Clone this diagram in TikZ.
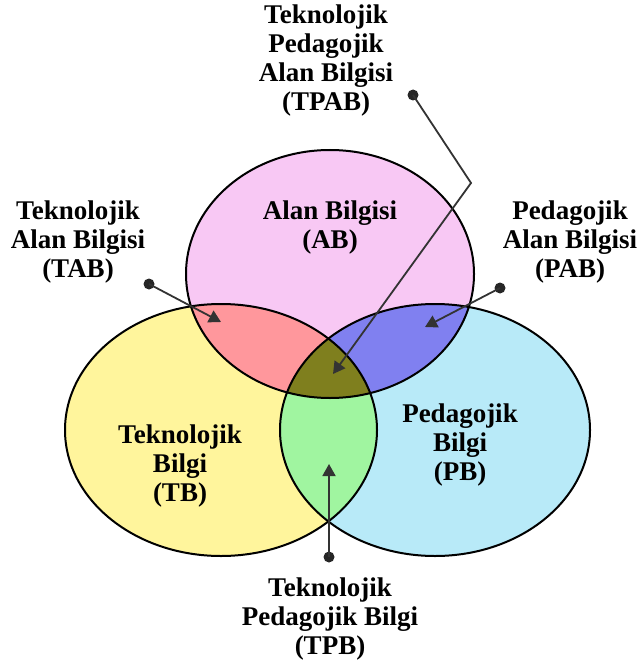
\documentclass[tikz,border=0pt]{standalone}
\usepackage{fontspec}
\setmainfont{Liberation Serif}
\usetikzlibrary{arrows.meta}
\definecolor{abpink}{HTML}{F8C8F4}
\definecolor{tbyellow}{HTML}{FFF59C}
\definecolor{pbcyan}{HTML}{B8EAF8}
\definecolor{tabred}{HTML}{FF979C}
\definecolor{pabblue}{HTML}{8080F0}
\definecolor{tpbgreen}{HTML}{A0F5A0}
\definecolor{tpabolive}{HTML}{7F7F1E}
\tikzset{
  lbl/.style={font=\bfseries\fontsize{27}{29}\selectfont, align=center, inner sep=0pt},
  dotend/.style={circle, fill=black!85, inner sep=0pt, minimum size=11pt},
  pointer/.style={draw=black!80, line width=1.8pt, -{Triangle[length=12pt,width=13pt]}},
  ring/.style={draw=black, line width=2pt},
}
\begin{document}
\begin{tikzpicture}[x=1pt,y=-1pt]
\useasboundingbox (0,0) rectangle (637,668);
\def\abring{(330,274) ellipse [x radius=144pt, y radius=124pt]}
\def\tbring{(221,430) ellipse [x radius=156pt, y radius=126pt]}
\def\pbring{(435,430) ellipse [x radius=155pt, y radius=126pt]}
% base fills
\fill[abpink] \abring;
\fill[tbyellow] \tbring;
\fill[pbcyan] \pbring;
% overlaps
\begin{scope}
\clip \abring;
\fill[tabred] \tbring;
\fill[pabblue] \pbring;
\end{scope}
\begin{scope}
\clip \tbring;
\fill[tpbgreen] \pbring;
\end{scope}
\begin{scope}
\clip \abring;
\clip \tbring;
\fill[tpabolive] \pbring;
\end{scope}
% outlines
\draw[ring] \abring;
\draw[ring] \tbring;
\draw[ring] \pbring;
% labels
\node[lbl] (tpab) at (326,61) {Teknolojik\\Pedagojik\\Alan Bilgisi\\(TPAB)};
\node[lbl] (tab) at (78,242) {Teknolojik\\Alan Bilgisi\\(TAB)};
\node[lbl] (pab) at (570,242) {Pedagojik\\Alan Bilgisi\\(PAB)};
\node[lbl] (ab) at (330,228) {Alan Bilgisi\\(AB)};
\node[lbl] (tb) at (180,466) {Teknolojik\\Bilgi\\(TB)};
\node[lbl] (pb) at (460,445) {Pedagojik\\Bilgi\\(PB)};
\node[lbl] (tpb) at (330,619) {Teknolojik\\Pedagojik Bilgi\\(TPB)};
% pointers
\node[dotend] (tabdot) at (149,284) {};
\node[dotend] (pabdot) at (500,288) {};
\node[dotend] (tpabdot) at (413,95) {};
\node[dotend] (tpbdot) at (329,557) {};
\coordinate (tabtip) at (221,322);
\coordinate (pabtip) at (425,327);
\coordinate (tpabbend) at (471,183);
\coordinate (tpabtip) at (333,374);
\coordinate (tpbtip) at (329,464);
\draw[pointer] (tabdot.center) -- (tabtip);
\draw[pointer] (pabdot.center) -- (pabtip);
\draw[pointer] (tpabdot.center) -- (tpabbend) -- (tpabtip);
\draw[pointer] (tpbdot.center) -- (tpbtip);
\end{tikzpicture}
\end{document}
